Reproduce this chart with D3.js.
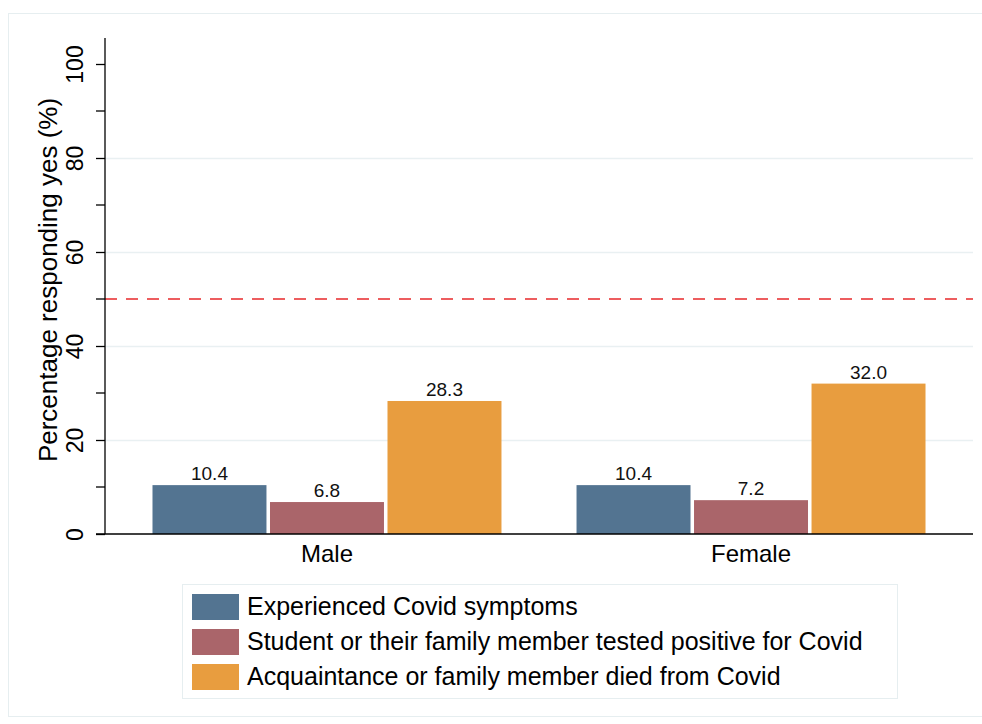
<!DOCTYPE html>
<html>
<head>
<meta charset="utf-8">
<script src="https://cdn.jsdelivr.net/npm/d3@7"></script>
<style>
  html, body { margin: 0; padding: 0; background: #fff; }
  svg { display: block; font-family: Arial, "Liberation Sans", Helvetica, sans-serif; }
</style>
</head>
<body>
<svg id="chart" width="982" height="724"></svg>
<script>
// Groups, series and values
const groups = ["Male", "Female"];
const seriesNames = [
  "Experienced Covid symptoms",
  "Student or their family member tested positive for Covid",
  "Acquaintance or family member died from Covid"
];
const seriesColors = ["#537491", "#aa656a", "#e89d3f"];
const symptoms = [10.4, 10.4];
const testedPositive = [6.8, 7.2];
const diedFromCovid = [28.3, 32.0];
const yMajorTicks = [0, 20, 40, 60, 80, 100];
const yMinorTicks = [10, 30, 50, 70, 90];
const referenceLine = 50;
const yTitle = "Percentage responding yes (%)";

const seriesValues = [symptoms, testedPositive, diedFromCovid];

const svg = d3.select("#chart");

// Outer frame
svg.append("rect")
  .attr("x", 8.5).attr("y", 13.5)
  .attr("width", 990).attr("height", 703)
  .attr("fill", "none")
  .attr("stroke", "#e6eef0").attr("stroke-width", 1);

const plot = { left: 105, right: 973, top: 38, bottom: 534 };

const y = d3.scaleLinear().domain([0, 100]).range([534, 64]);

const x0 = d3.scaleBand()
  .domain(groups)
  .range([plot.left, plot.right])
  .paddingInner(0.177)
  .paddingOuter(0.112);

const x1 = d3.scaleBand()
  .domain(d3.range(seriesNames.length))
  .range([0, x0.bandwidth()])
  .paddingInner(0.03);

// Gridlines
svg.append("g")
  .selectAll("line")
  .data(yMajorTicks.filter(t => t > 0 && t < 100))
  .join("line")
  .attr("x1", plot.left).attr("x2", plot.right)
  .attr("y1", d => Math.round(y(d)) + 0.5).attr("y2", d => Math.round(y(d)) + 0.5)
  .attr("stroke", "#e9f0f2").attr("stroke-width", 1.5);

// Bars
const rows = [];
groups.forEach((g, gi) => {
  seriesValues.forEach((vals, si) => rows.push({ g, si, v: vals[gi] }));
});

svg.append("g")
  .selectAll("rect")
  .data(rows)
  .join("rect")
  .attr("x", d => x0(d.g) + x1(d.si))
  .attr("width", x1.bandwidth())
  .attr("y", d => y(d.v))
  .attr("height", d => y(0) - y(d.v))
  .attr("fill", d => seriesColors[d.si]);

// Value labels
svg.append("g")
  .selectAll("text")
  .data(rows)
  .join("text")
  .attr("x", d => x0(d.g) + x1(d.si) + x1.bandwidth() / 2)
  .attr("y", d => y(d.v) - 5)
  .attr("text-anchor", "middle")
  .attr("font-size", 19)
  .attr("fill", "#111")
  .text(d => d.v.toFixed(1));

// Reference line at 50%
svg.append("line")
  .attr("x1", plot.left).attr("x2", plot.right)
  .attr("y1", y(referenceLine)).attr("y2", y(referenceLine))
  .attr("stroke", "#e8282b").attr("stroke-width", 1.3)
  .attr("stroke-dasharray", "12,9");

// Y axis
const yAxis = d3.axisLeft(y)
  .tickValues(yMajorTicks)
  .tickSize(9)
  .tickFormat(d3.format("d"));

const yg = svg.append("g")
  .attr("transform", `translate(${plot.left},0)`)
  .call(yAxis);
yg.select(".domain").attr("d", `M0,${plot.top}V${plot.bottom}`).attr("stroke", "#000").attr("stroke-width", 1.3);
yg.selectAll(".tick line").attr("stroke", "#000").attr("stroke-width", 1.3);
yg.selectAll(".tick text")
  .attr("font-size", 23)
  .attr("fill", "#000")
  .attr("font-family", "Arial, 'Liberation Sans', sans-serif")
  .attr("transform", "translate(-22,0) rotate(-90)")
  .attr("x", 0)
  .attr("y", 0)
  .attr("dy", 0)
  .attr("text-anchor", "middle");

svg.append("g")
  .selectAll("line")
  .data(yMinorTicks)
  .join("line")
  .attr("x1", plot.left - 9).attr("x2", plot.left)
  .attr("y1", d => y(d)).attr("y2", d => y(d))
  .attr("stroke", "#000").attr("stroke-width", 1.3);

// Y title
svg.append("text")
  .attr("transform", "translate(57,280) rotate(-90)")
  .attr("text-anchor", "middle")
  .attr("font-size", 26)
  .attr("fill", "#000")
  .text(yTitle);

// X axis
svg.append("line")
  .attr("x1", plot.left - 9).attr("x2", plot.right)
  .attr("y1", y(0)).attr("y2", y(0))
  .attr("stroke", "#000").attr("stroke-width", 1.3);

svg.append("g")
  .selectAll("text")
  .data(groups)
  .join("text")
  .attr("x", d => x0(d) + x0.bandwidth() / 2)
  .attr("y", 562)
  .attr("text-anchor", "middle")
  .attr("font-size", 24)
  .attr("fill", "#000")
  .text(d => d);

// Legend
const legend = svg.append("g");
legend.append("rect")
  .attr("x", 182.5).attr("y", 584.5)
  .attr("width", 715).attr("height", 114)
  .attr("fill", "#fff")
  .attr("stroke", "#e6eef0").attr("stroke-width", 1);

const items = legend.selectAll("g.item")
  .data(seriesNames)
  .join("g")
  .attr("class", "item")
  .attr("transform", (d, i) => `translate(192,${594 + i * 35})`);

items.append("rect")
  .attr("width", 47).attr("height", 26)
  .attr("fill", (d, i) => seriesColors[i]);

items.append("text")
  .attr("x", 55).attr("y", 21)
  .attr("font-size", 25)
  .attr("fill", "#000")
  .text(d => d);
</script>
</body>
</html>
